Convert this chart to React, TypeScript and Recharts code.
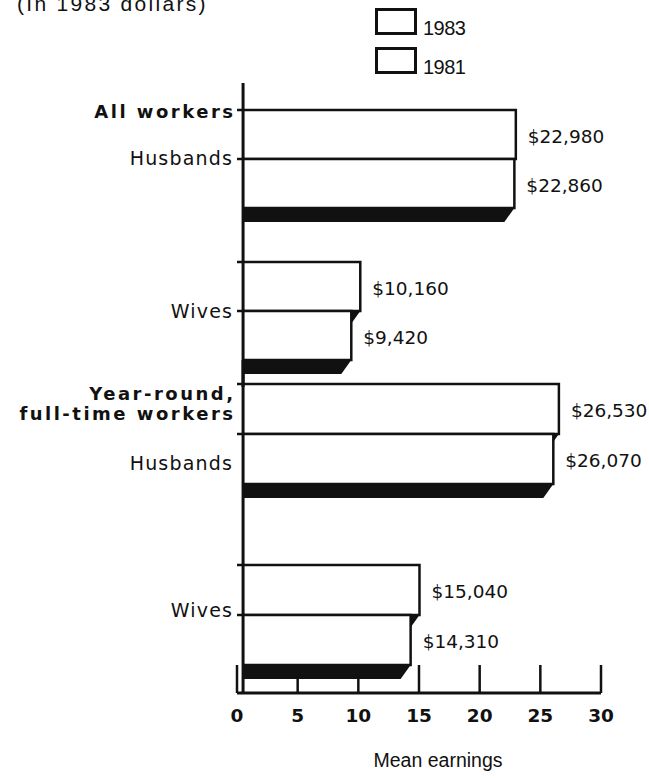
import { BarChart, Bar, XAxis, YAxis, LabelList, ReferenceLine, Legend } from 'recharts';

const categories = ['Husbands', 'Wives'];
const years = ['1983', '1981'];
const allWorkers1983 = [22980, 10160];
const allWorkers1981 = [22860, 9420];
const fullTime1983 = [26530, 15040];
const fullTime1981 = [26070, 14310];
const xTicks = [0, 5000, 10000, 15000, 20000, 25000, 30000];
const allWorkersHeader = ['All workers'];
const fullTimeHeader = ['Year-round,', 'full-time workers'];

const FONT = '"Liberation Sans", Arial, Helvetica, sans-serif';
const WIDE = '"DejaVu Sans", Verdana, sans-serif';
const INK = '#111';
const WALL = 6; // the depth of the back wall, px

const toRows = (a: number[], b: number[]) =>
  categories.map((c, i) => ({ category: c, y1983: a[i], y1981: b[i] }));

const allRows = toRows(allWorkers1983, allWorkers1981);
const fullTimeRows = toRows(fullTime1983, fullTime1981);

// white slab with a black underside, like the old print
function Bar3D(props: any) {
  const { x, y, width, height } = props;
  if (!width || width <= 0) return null;
  const d = 14, s = 10;
  const r = x + width, b = y + height, l = x + WALL;
  return (
    <g>
      <polygon points={`${l},${b} ${r},${b} ${r - s},${b + d} ${l},${b + d}`} fill={INK} />
      <rect x={x} y={y} width={width} height={height} fill="#fff" />
      <path d={`M${x},${y} H${r} V${b} H${l}`} fill="none" stroke={INK} strokeWidth={2.5} />
    </g>
  );
}

const renderValue = (p: any) => {
  const vb = p.viewBox && p.viewBox.width !== undefined ? p.viewBox : p;
  const { x, y, width, height } = vb;
  return (
    <text x={x + width + 12} y={y + height / 2 + 8} fontSize={18.5}
      fill={INK} fontFamily={WIDE}>
      {`$${Number(p.value).toLocaleString('en-US')}`}
    </text>
  );
};

const categoryTick = (header: string[], headerDy: number[], labelDy: number[]) => (p: any) => {
  const { x, y, payload, index } = p;
  return (
    <g fill={INK}>
      {index === 0 && header.map((h, i) => (
        <text key={h} x={x - 4 + 2.5} y={y + headerDy[i]} textAnchor="end" fontFamily={WIDE}
          fontWeight="bold" fontSize={18} letterSpacing={2.5}>{h}</text>
      ))}
      <text x={x - 5 + 1.2} y={y + labelDy[index]} textAnchor="end" fontFamily={WIDE}
        fontSize={19} letterSpacing={1.2}>
        {payload.value}
      </text>
    </g>
  );
};

const xTick = (p: any) => {
  const { x, y, payload } = p;
  return (
    <g>
      <line x1={x} x2={x} y1={y} y2={y - 28} stroke={INK} strokeWidth={2.5} />
      <text x={x} y={y + 29} textAnchor="middle" fontWeight="bold" fontSize={18.5}
        fill={INK} fontFamily={WIDE}>{payload.value / 1000}</text>
    </g>
  );
};

const renderLegend = ({ payload }: any) => {
  const items = years.map((yr) => (payload || []).find((e: any) => e.value === yr)).filter(Boolean);
  return (
    <div style={{ fontFamily: FONT, color: INK }}>
      {items.map((e: any) => (
        <div key={e.value} style={{ display: 'flex', alignItems: 'flex-end', height: 27, marginBottom: 12 }}>
          <div style={{ width: 42, height: 27, border: `3px solid ${INK}`, boxSizing: 'border-box', background: '#fff' }} />
          <span style={{ fontSize: '20px', lineHeight: '20px', marginLeft: 6, marginBottom: -3, letterSpacing: -0.5 }}>{e.value}</span>
        </div>
      ))}
    </div>
  );
};

export default function App() {
  return (
    <div style={{ position: 'absolute', left: 0, top: 0, width: 649, height: 778, background: '#fff', overflow: 'hidden' }}>
      <div style={{ position: 'absolute', left: 17, top: -7, fontFamily: FONT, fontSize: 21, lineHeight: '21px',
        letterSpacing: 2.3, whiteSpace: 'nowrap', color: INK }}>
        (In 1983 dollars)
      </div>

      {/* year-round panel, carries the value axis */}
      <div style={{ position: 'absolute', left: 0, top: 0 }}>
        <BarChart width={649} height={778} data={fullTimeRows} layout="vertical"
          margin={{ top: 343, right: 48, bottom: 0, left: 0 }} barGap={0} barSize={50}>
          <XAxis type="number" domain={[0, 30000]} ticks={xTicks} interval={0} height={85}
            tickSize={0} tickMargin={0} tickLine={false} axisLine={{ stroke: INK, strokeWidth: 3 }} tick={xTick}
            label={{ value: 'Mean earnings', position: 'insideBottom', offset: 11, dx: 19, fontSize: 19.5, fill: INK, fontFamily: FONT }} />
          <YAxis type="category" dataKey="category" width={237} axisLine={false} tickLine={false}
            tickSize={0} tickMargin={0} interval={0} padding={{ top: 0, bottom: -12 }}
            tick={categoryTick(fullTimeHeader, [-34, -14], [36, 2])} />
          <Bar dataKey="y1983" name="1983" shape={Bar3D} isAnimationActive={false}>
            <LabelList dataKey="y1983" content={renderValue} />
          </Bar>
          <Bar dataKey="y1981" name="1981" shape={Bar3D} isAnimationActive={false}>
            <LabelList dataKey="y1981" content={renderValue} />
          </Bar>
          <ReferenceLine x={500} stroke={INK} strokeWidth={3} />
        </BarChart>
      </div>

      {/* all workers panel */}
      <div style={{ position: 'absolute', left: 0, top: 0 }}>
        <BarChart width={649} height={387} data={allRows} layout="vertical"
          margin={{ top: 83, right: 48, bottom: 0, left: 0 }} barGap={0} barSize={49}>
          <XAxis type="number" domain={[0, 30000]} hide />
          <YAxis type="category" dataKey="category" width={237} axisLine={false} tickLine={false}
            tickSize={0} tickMargin={0} interval={0}
            tick={categoryTick(allWorkersHeader, [-41], [6, 7])} />
          <Bar dataKey="y1983" name="1983" shape={Bar3D} isAnimationActive={false}>
            <LabelList dataKey="y1983" content={renderValue} />
          </Bar>
          <Bar dataKey="y1981" name="1981" shape={Bar3D} isAnimationActive={false}>
            <LabelList dataKey="y1981" content={renderValue} />
          </Bar>
          <ReferenceLine x={500} stroke={INK} strokeWidth={3} />
          <Legend layout="vertical" align="center" verticalAlign="middle"
            wrapperStyle={{ top: 8, left: 375, width: 120 }} content={renderLegend} />
        </BarChart>
      </div>
    </div>
  );
}
